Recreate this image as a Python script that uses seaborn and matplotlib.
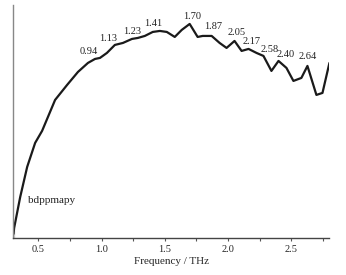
import matplotlib
matplotlib.use("Agg")
import matplotlib.pyplot as plt
import seaborn as sns
import pandas as pd

# Absorption spectrum (arbitrary units)
freq = [0.303, 0.303, 0.308, 0.356, 0.411, 0.474, 0.529, 0.632, 0.727, 0.813, 0.892,
        0.948, 0.987, 1.042, 1.105, 1.169, 1.240, 1.287, 1.342, 1.405, 1.461, 1.516,
        1.579, 1.634, 1.697, 1.760, 1.800, 1.871, 1.934, 1.989, 2.052, 2.108, 2.163,
        2.226, 2.281, 2.344, 2.400, 2.463, 2.518, 2.581, 2.629, 2.700, 2.748, 2.803]
intensity = [0, 8, 10, 41, 71, 95, 107, 138, 153, 166, 175,
             179, 180, 185, 193, 195, 199, 200, 202, 206, 207, 206,
             201, 208, 214, 201, 202, 202, 195, 190, 197, 187, 189,
             185, 182, 167, 177, 170, 157, 160, 172, 143, 145, 175]
peak_labels = ["0.94", "1.13", "1.23", "1.41", "1.70", "1.87", "2.05", "2.17", "2.58", "2.40", "2.64"]
label_x = [0.90, 1.05, 1.24, 1.41, 1.72, 1.88, 2.07, 2.19, 2.33, 2.46, 2.63]
label_y = [186, 199, 206, 214, 221, 211, 205, 196, 188, 183, 181]

df = pd.DataFrame({"freq": freq, "intensity": intensity})

sns.set_style("ticks")
plt.rcParams["font.family"] = ["Liberation Serif", "DejaVu Serif"]

fig = plt.figure(figsize=(3.46, 2.75), dpi=100)
ax = fig.add_axes([0.038, 0.135, 0.913, 0.847])
sns.lineplot(data=df, x="freq", y="intensity", ax=ax, color="#1a1a1a", linewidth=1.6,
             sort=False)

for t, x, y in zip(peak_labels, label_x, label_y):
    ax.text(x, y, t, ha="center", va="center", fontsize=7.5, color="#222222")
ax.text(0.42, 37, "bdppmapy", ha="left", va="center", fontsize=8, color="#222222")

ax.set_xlim(0.30, 2.80)
ax.set_ylim(0, 233)
ax.set_xticks([0.5, 1.0, 1.5, 2.0, 2.5])
ax.set_xticks([0.75, 1.25, 1.75, 2.25, 2.75], minor=True)
ax.set_yticks([])
ax.set_xlabel("Frequency / THz", fontsize=8, labelpad=2)
ax.set_ylabel("")
ax.tick_params(axis="x", which="both", direction="out", length=2, width=0.8,
               labelsize=7.5, pad=3, color="#555555")
sns.despine(ax=ax, top=True, right=True)
ax.spines["left"].set_color("#888888")
ax.spines["bottom"].set_color("#444444")
ax.spines["left"].set_linewidth(1.0)
ax.spines["bottom"].set_linewidth(1.0)

fig.savefig("out.png", dpi=100)
